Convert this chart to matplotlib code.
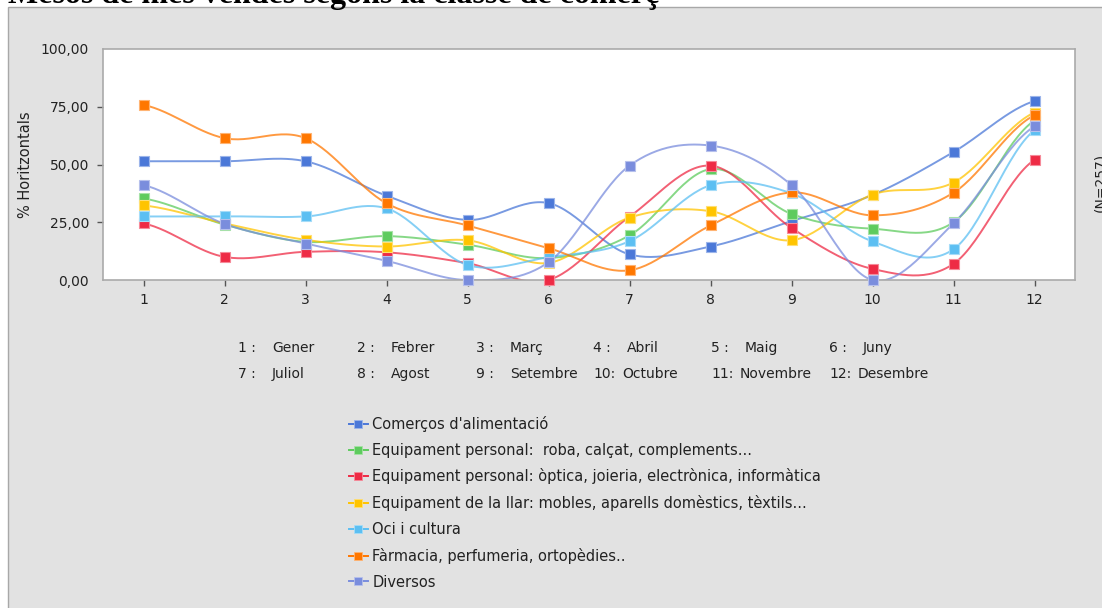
import numpy as np
import matplotlib
matplotlib.use("Agg")
import matplotlib.pyplot as plt
from matplotlib.patches import Rectangle
from matplotlib.ticker import FuncFormatter

months = list(range(1, 13))
month_names = ["Gener", "Febrer", "Març", "Abril", "Maig", "Juny",
               "Juliol", "Agost", "Setembre", "Octubre", "Novembre", "Desembre"]

series_names = [
    "Comerços d'alimentació",
    "Equipament personal:  roba, calçat, complements...",
    "Equipament personal: òptica, joieria, electrònica, informàtica",
    "Equipament de la llar: mobles, aparells domèstics, tèxtils...",
    "Oci i cultura",
    "Fàrmacia, perfumeria, ortopèdies..",
    "Diversos",
]
alimentacio = [51.4, 51.4, 51.4, 36.5, 26.0, 33.3, 11.1, 14.5, 25.5, 36.8, 55.4, 77.5]
roba = [35.3, 24.0, 16.5, 19.0, 15.3, 9.5, 19.3, 48.0, 28.6, 22.2, 25.0, 69.0]
optica = [24.5, 10.0, 12.2, 12.0, 7.3, 0.0, 27.4, 49.5, 22.5, 4.8, 7.0, 52.0]
llar = [32.3, 24.5, 17.4, 14.5, 17.2, 7.4, 27.0, 29.8, 17.2, 37.0, 42.2, 72.5]
oci = [27.5, 27.6, 27.5, 31.0, 6.5, 9.9, 16.8, 41.0, 37.5, 16.7, 13.3, 64.8]
farmacia = [75.8, 61.4, 61.4, 33.2, 23.6, 13.8, 4.2, 23.6, 37.9, 28.0, 37.8, 71.3]
diversos = [41.1, 24.3, 15.8, 8.3, 0.0, 7.7, 49.5, 58.2, 41.1, 0.0, 24.5, 66.5]
all_series = [alimentacio, roba, optica, llar, oci, farmacia, diversos]
colors = ["#4b78d8", "#5ecb5e", "#ee2b45", "#ffc400", "#5cbff2", "#ff7700", "#7a8ddd"]


def catmull_rom(x, y, n=30):
    # smooth curve through the points like the original chart
    x = np.asarray(x, float)
    y = np.asarray(y, float)
    px = np.concatenate([[2 * x[0] - x[1]], x, [2 * x[-1] - x[-2]]])
    py = np.concatenate([[y[0]], y, [y[-1]]])
    xs, ys = [], []
    for i in range(1, len(px) - 2):
        t = np.linspace(0, 1, n, endpoint=False)
        for p, out in ((px, xs), (py, ys)):
            p0, p1, p2, p3 = p[i - 1], p[i], p[i + 1], p[i + 2]
            out.extend(0.5 * ((2 * p1) + (-p0 + p2) * t
                              + (2 * p0 - 5 * p1 + 4 * p2 - p3) * t ** 2
                              + (-p0 + 3 * p1 - 3 * p2 + p3) * t ** 3))
    xs.append(x[-1])
    ys.append(y[-1])
    return np.array(xs), np.array(ys)


def lighter(c, f=0.45):
    rgb = np.array(matplotlib.colors.to_rgb(c))
    return tuple(rgb + (1 - rgb) * f)


W, H = 1102, 608
fig = plt.figure(figsize=(W / 100, H / 100), dpi=100)
fig.patch.set_facecolor("white")

# grey outer panel
fig.patches.append(Rectangle((8 / W, -0.1), 1.2, 1.1 - 7 / H, transform=fig.transFigure,
                             facecolor="#e2e2e2", edgecolor="#a8a8a8", lw=1, zorder=-5))

fig.text(8 / W, 1 - 3 / H, "Mesos de més vendes segons la classe de comerç",
         family="Liberation Serif", weight="bold", fontsize=23, va="baseline", ha="left")

ax = fig.add_axes([103 / W, 1 - 280 / H, (1075 - 103) / W, (280 - 49) / H])
ax.set_zorder(2)
ax.set_facecolor("white")
for s in ax.spines.values():
    s.set_color("#aaaaaa")
    s.set_linewidth(1.2)

for vals, c, name in zip(all_series, colors, series_names):
    sx, sy = catmull_rom(months, vals)
    ax.plot(sx, sy, color=c, lw=1.4, alpha=0.75, zorder=2)
    ax.plot(months, vals, ls="none", marker="s", ms=7, color=c,
            mec=lighter(c), mew=0.8, zorder=3, clip_on=False)

ax.set_xlim(0.5, 12.5)
ax.set_ylim(0, 100)
ax.set_xticks(months)
ax.set_yticks([0, 25, 50, 75, 100])
ax.yaxis.set_major_formatter(FuncFormatter(lambda v, p: f"{v:.2f}".replace(".", ",")))
ax.tick_params(colors="#555555", labelcolor="#222222", labelsize=10, length=4, width=1)
ax.tick_params(axis="y", pad=6)
ax.tick_params(axis="x", pad=5)
yt = ax.yaxis.get_major_ticks()
yt[0].tick1line.set_visible(False)
yt[-1].tick1line.set_visible(False)
ax.set_ylabel("% Horitzontals", fontsize=10.5, color="#222222", labelpad=6)

# right side label (clipped at the image edge)
fig.text(1093 / W, 1 - 182 / H, "(N=257)", rotation=90, fontsize=10,
         color="#222222", ha="left", va="center")

# month key
col_x = [238, 357, 476, 593, 711, 829]
for i, name in enumerate(month_names):
    row, col = divmod(i, 6)
    y = 1 - (348 + 26 * row) / H
    num = f"{i + 1} :" if i < 9 else f"{i + 1}:"
    fig.text(col_x[col] / W, y, num, fontsize=10, color="#222222", va="center")
    fig.text((col_x[col] + (34 if i < 9 else 29)) / W, y, name, fontsize=10,
             color="#222222", va="center")

# series legend
handles = [plt.Line2D([], [], color=c, lw=1.4, marker="s", ms=6, mec=lighter(c), mew=0.6)
           for c in colors]
fig.legend(handles, series_names, loc="upper left", bbox_to_anchor=(343 / W, 1 - 410 / H),
           frameon=False, fontsize=10.5, handlelength=1.3, handletextpad=0.3,
           labelspacing=0.74, borderaxespad=0, labelcolor="#222222")

fig.savefig("out.png", dpi=100)
